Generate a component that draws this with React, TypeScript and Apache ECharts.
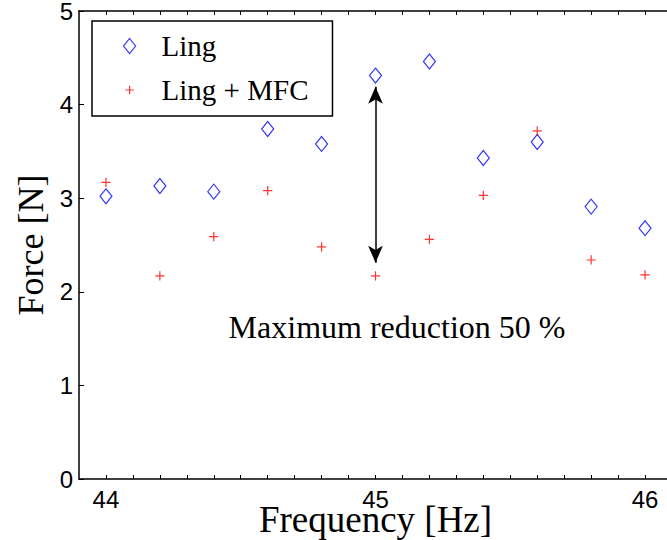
import React, { useEffect, useRef } from "react";
import * as echarts from "echarts";

// Excitation frequency [Hz]
const freq = [44, 44.2, 44.4, 44.6, 44.8, 45, 45.2, 45.4, 45.6, 45.8, 46];
// Force amplitude [N] without control
const ling = [3.02, 3.13, 3.07, 3.74, 3.58, 4.31, 4.46, 3.43, 3.6, 2.91, 2.68];
// Force amplitude [N] with MFC actuators active
const lingMfc = [3.17, 2.17, 2.59, 3.08, 2.48, 2.17, 2.56, 3.03, 3.72, 2.34, 2.18];

// Tick marks every 0.1 Hz, labelled at whole hertz
const xTicks = [
  44, 44.1, 44.2, 44.3, 44.4, 44.5, 44.6, 44.7, 44.8, 44.9, 45, 45.1, 45.2, 45.3,
  45.4, 45.5, 45.6, 45.7, 45.8, 45.9, 46,
];
const xLabels = [44, 45, 46];

// Double arrow marking the largest drop (at 45 Hz)
const arrowFreq = 45;
const arrowSpan = [4.19, 2.31];

// Plus marker; the bare moveTo points pad its bounding box so the cross sits smaller
const PLUS = "path://M0,0M14,14M2,7L12,7M7,2L7,12";

const serif = "Liberation Serif";
const sans = "Liberation Sans";

export default function App() {
  const ref = useRef<HTMLDivElement>(null);

  useEffect(() => {
    if (!ref.current) return;
    const chart = echarts.init(ref.current, undefined, { renderer: "svg" });

    const axisLine = { show: true, onZero: false, lineStyle: { color: "#000", width: 1.5 } };
    const tickStyle = { color: "#000", width: 1 };

    chart.setOption({
      animation: false,
      backgroundColor: "#fff",
      grid: {
        left: 79,
        top: 11,
        right: 8,
        bottom: 61,
        containLabel: false,
        outerBoundsMode: "none",
      },
      xAxis: [
        {
          type: "value",
          position: "bottom",
          min: 43.9,
          max: 46.1,
          axisLine,
          axisTick: { show: true, inside: true, length: 4, customValues: xTicks, lineStyle: tickStyle },
          axisLabel: {
            customValues: xLabels,
            color: "#000",
            fontFamily: sans,
            fontSize: 24,
            margin: 8,
          },
          splitLine: { show: false },
          name: "Frequency [Hz]",
          nameLocation: "middle",
          nameGap: 22,
          nameMoveOverlap: false,
          nameTextStyle: { fontFamily: serif, fontSize: 37, color: "#000" },
        },
        {
          type: "value",
          position: "top",
          min: 43.9,
          max: 46.1,
          axisLine,
          axisTick: { show: true, inside: true, length: 4, customValues: xTicks, lineStyle: tickStyle },
          axisLabel: { show: false },
          splitLine: { show: false },
        },
      ],
      yAxis: [
        {
          type: "value",
          position: "left",
          min: 0,
          max: 5,
          interval: 1,
          axisLine,
          axisTick: { show: true, inside: true, length: 5, lineStyle: tickStyle },
          axisLabel: { color: "#000", fontFamily: sans, fontSize: 24, margin: 6 },
          splitLine: { show: false },
          name: "Force [N]",
          nameLocation: "middle",
          nameRotate: 90,
          nameGap: 30,
          nameMoveOverlap: false,
          nameTextStyle: { fontFamily: serif, fontSize: 36, color: "#000" },
        },
        {
          type: "value",
          position: "right",
          min: 0,
          max: 5,
          interval: 1,
          axisLine,
          axisTick: { show: true, inside: true, length: 5, lineStyle: tickStyle },
          axisLabel: { show: false },
          splitLine: { show: false },
        },
      ],
      legend: {
        orient: "vertical",
        left: 92,
        top: 21,
        data: ["Ling", "Ling + MFC"],
        selectedMode: false,
        itemWidth: 12,
        itemHeight: 15,
        itemGap: 14,
        padding: [10, 24, 11, 31],
        borderColor: "#000",
        borderWidth: 1.5,
        borderRadius: 0,
        backgroundColor: "#fff",
        itemStyle: { borderWidth: 1.2 },
        textStyle: {
          fontFamily: serif,
          fontSize: 29,
          color: "#000",
          lineHeight: 30,
          padding: [0, 0, 0, 21],
        },
      },
      series: [
        {
          name: "Ling",
          type: "scatter",
          data: freq.map((f, i) => [f, ling[i]]),
          symbol: "diamond",
          symbolSize: [12, 15],
          itemStyle: { color: "rgba(255,255,255,0)", borderColor: "#0000ff", borderWidth: 1.2 },
          markLine: {
            silent: true,
            symbol: ["arrow", "arrow"],
            symbolSize: [11, 17],
            lineStyle: { color: "#000", width: 1.5, type: "solid" },
            label: { show: false },
            data: [[{ coord: [arrowFreq, arrowSpan[0]] }, { coord: [arrowFreq, arrowSpan[1]] }]],
          },
        },
        {
          name: "Ling + MFC",
          type: "scatter",
          data: freq.map((f, i) => [f, lingMfc[i]]),
          symbol: PLUS,
          symbolSize: 13,
          itemStyle: { color: "rgba(255,255,255,0)", borderColor: "#ff0000", borderWidth: 1.2 },
        },
      ],
      graphic: [
        {
          type: "text",
          x: 397,
          y: 327,
          style: {
            text: "Maximum reduction 50 %",
            fontFamily: serif,
            fontSize: 32,
            fill: "#000",
            align: "center",
            verticalAlign: "middle",
          },
        },
      ],
    });

    return () => chart.dispose();
  }, []);

  return (
    <div
      style={{
        position: "fixed",
        left: 0,
        top: 0,
        width: 667,
        height: 540,
        overflow: "hidden",
        background: "#fff",
      }}
    >
      <div ref={ref} style={{ width: 680, height: 540 }} />
    </div>
  );
}
